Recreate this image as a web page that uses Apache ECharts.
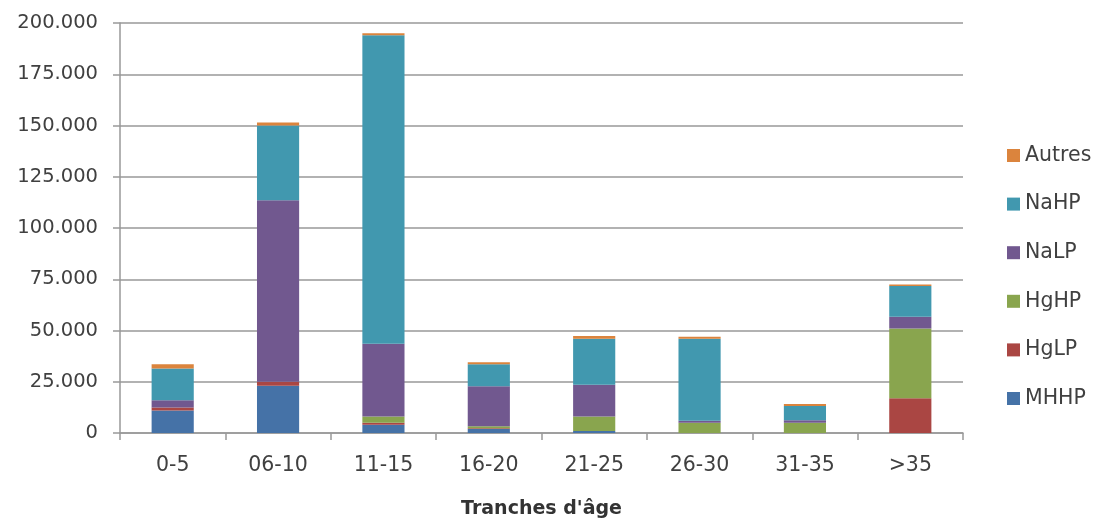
<!DOCTYPE html>
<html><head><meta charset="utf-8">
<script src="https://cdn.jsdelivr.net/npm/echarts@6/dist/echarts.min.js"></script>
<style>html,body{margin:0;padding:0;background:#fff}#c{width:1100px;height:521px}</style>
</head><body><div id="c"></div>
<script>
const categories = ['0-5','06-10','11-15','16-20','21-25','26-30','31-35','>35'];
const MHHP   = [11000, 23000, 4000, 2000, 1000,     0,    0,     0];
const HgLP   = [ 1500,  2000, 1000,  300,    0,     0,    0, 17000];
const HgHP   = [    0,     0, 3000, 1000, 7000,  5000, 5000, 34000];
const NaLP   = [ 3500, 88500,35500,19500,15500,  1000, 1200,  5700];
const NaHP   = [15500, 36500,150500,10700,22500, 40000, 7000, 15000];
const Autres = [ 2000,  1500, 1000, 1000, 1300,  1000,  900,   800];
const seriesNames = ['MHHP','HgLP','HgHP','NaLP','NaHP','Autres'];
const seriesData = [MHHP, HgLP, HgHP, NaLP, NaHP, Autres];
const colors = ['#4572A7','#AA4643','#89A54E','#71588F','#4198AF','#DB843D'];
const yTicks = [0,25000,50000,75000,100000,125000,150000,175000,200000];
const xTitle = "Tranches d'âge";

const font = "'DejaVu Sans', sans-serif";
const chart = echarts.init(document.getElementById('c'));
chart.setOption({
  animation: false,
  color: colors,
  grid: {left: 120, right: 137, top: 23, bottom: 88, containLabel: false, outerBoundsMode: 'none'},
  legend: {
    orient: 'vertical', left: 1007, top: 145,
    data: seriesNames.slice().reverse(),
    itemWidth: 13, itemHeight: 13, itemGap: 27.6, itemTextGap: 7,
    icon: 'rect', padding: 0,
    textStyle: {fontFamily: font, fontSize: 20.5, color: '#404040', lineHeight: 21}
  },
  xAxis: {
    type: 'category', data: categories,
    name: xTitle, nameLocation: 'middle', nameGap: 67,
    nameTextStyle: {fontFamily: font, fontSize: 19, fontWeight: 'bold', color: '#333'},
    axisLine: {lineStyle: {color: '#999', width: 1.5}},
    axisTick: {show: true, length: 7, lineStyle: {color: '#999', width: 1.5}},
    axisLabel: {fontFamily: font, fontSize: 20.5, color: '#404040', margin: 22}
  },
  yAxis: {
    type: 'value', min: 0, max: 200000, interval: 25000,
    axisLine: {show: true, lineStyle: {color: '#999', width: 1.5}},
    axisTick: {show: true, length: 7, lineStyle: {color: '#999', width: 1.5}},
    splitLine: {lineStyle: {color: '#999', width: 1.5}},
    axisLabel: {fontFamily: font, fontSize: 19.5, color: '#404040', margin: 22,
      formatter: v => v === 0 ? '0' : (v/1000) + '.000'}
  },
  series: seriesNames.map((n, i) => ({
    name: n, type: 'bar', stack: 'total', data: seriesData[i],
    barWidth: '40%'
  }))
});
</script></body></html>
